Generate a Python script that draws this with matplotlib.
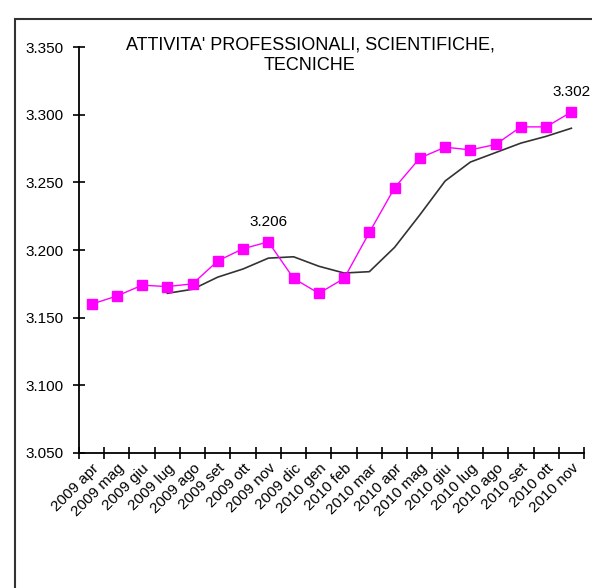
import numpy as np
import matplotlib
matplotlib.use("Agg")
import matplotlib.pyplot as plt
from matplotlib.patches import Rectangle

plt.rcParams['font.family'] = ['Liberation Sans', 'DejaVu Sans']

months = ["2009 apr", "2009 mag", "2009 giu", "2009 lug", "2009 ago", "2009 set",
          "2009 ott", "2009 nov", "2009 dic", "2010 gen", "2010 feb", "2010 mar",
          "2010 apr", "2010 mag", "2010 giu", "2010 lug", "2010 ago", "2010 set",
          "2010 ott", "2010 nov"]
values = [3.160, 3.166, 3.174, 3.173, 3.175, 3.192, 3.201, 3.206, 3.179, 3.168,
          3.179, 3.213, 3.246, 3.268, 3.276, 3.274, 3.278, 3.291, 3.291, 3.302]
# trend line starts at 2009 lug
trend = [np.nan, np.nan, np.nan, 3.168, 3.171, 3.180, 3.186, 3.194, 3.195, 3.188,
         3.183, 3.184, 3.202, 3.226, 3.251, 3.265, 3.272, 3.279, 3.284, 3.290]
yticks = [3.050, 3.100, 3.150, 3.200, 3.250, 3.300, 3.350]
labelled = [7, 19]

fig = plt.figure(figsize=(5.92, 5.88), dpi=100)
ax = fig.add_axes([0.1334, 0.2296, 0.8531, 0.6904])

x = np.arange(len(months))
ax.plot(x, trend, color="#333333", lw=1.2)
ax.plot(x, values, color="#ff00ff", lw=1, marker="s", markersize=6.5)

for i in labelled:
    ax.annotate(f"{values[i]:.3f}", (x[i], values[i]), xytext=(0, 9),
                textcoords="offset points", ha="center", va="bottom", fontsize=11)

ax.set_xlim(-0.5, len(months) - 0.5)
ax.set_ylim(3.05, 3.35)
ax.set_yticks(yticks)
ax.set_yticklabels([f"{v:.3f}" for v in yticks], fontsize=11)
ax.set_xticks(np.arange(len(months) + 1) - 0.5)
ax.set_xticklabels([])
ax.set_xticks(x, minor=True)
ax.set_xticklabels(months, minor=True, rotation=45, ha="right",
                   rotation_mode="anchor", fontsize=11)
ax.tick_params(axis="x", which="minor", length=0, pad=6)
ax.tick_params(which="major", direction="inout", length=8, width=1.2)
ax.tick_params(axis="y", pad=7)

for s in ["top", "right"]:
    ax.spines[s].set_visible(False)
for s in ["left", "bottom"]:
    ax.spines[s].set_linewidth(1.3)

fig.text(310 / 592, 1 - 55 / 588, "ATTIVITA' PROFESSIONALI, SCIENTIFICHE,\nTECNICHE",
         fontsize=13, ha="center", va="center", linespacing=1.3)

fig.patches.append(Rectangle((15 / 592, -0.1), 1.2, 0.1 + 1 - 19 / 588,
                             transform=fig.transFigure, fill=False,
                             edgecolor="#333333", lw=1.5))

fig.savefig("out.png", dpi=100)
